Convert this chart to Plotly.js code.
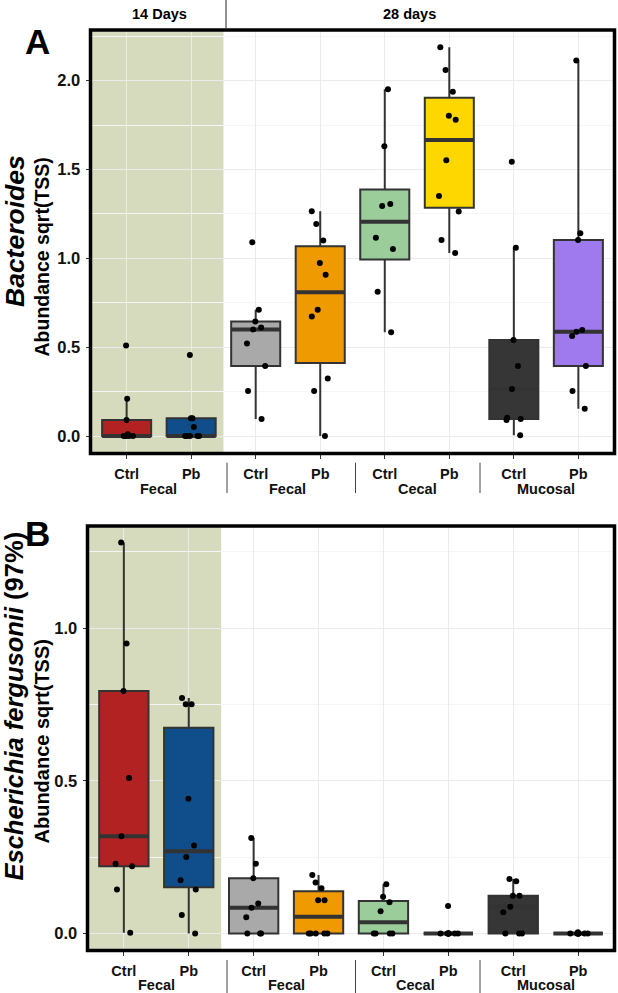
<!DOCTYPE html>
<html>
<head>
<meta charset="utf-8">
<script src="https://cdn.plot.ly/plotly-3.0.1.min.js"></script>
<style>
  html, body { margin: 0; padding: 0; background: #fff; }
  #plot { width: 618px; height: 993px; }
</style>
</head>
<body>
<div id="plot"></div>
<script>
// x categories (same order in both panels)
const categories = ['F14_Ctrl', 'F14_Pb', 'F28_Ctrl', 'F28_Pb', 'Cec_Ctrl', 'Cec_Pb', 'Muc_Ctrl', 'Muc_Pb'];
const treatmentLabels = ['Ctrl', 'Pb', 'Ctrl', 'Pb', 'Ctrl', 'Pb', 'Ctrl', 'Pb'];
const sampleTypes = ['Fecal', 'Fecal', 'Cecal', 'Mucosal'];
const boxColors = ['#B22222', '#104E8B', '#A9A9A9', '#EE9A00', '#9BCD9B', '#FFD700', '#363636', '#9F79EE'];

// panel A: Bacteroides, abundance sqrt(TSS), one array per box
const bacteroides = [
  [0.51, 0.21, 0.09, 0.01, 0, 0, 0, 0, 0],
  [0.456, 0.10, 0.10, 0.05, 0, 0, 0, 0, 0],
  [1.09, 0.71, 0.645, 0.61, 0.60, 0.52, 0.394, 0.253, 0.096],
  [1.265, 1.193, 1.10, 0.974, 0.908, 0.711, 0.672, 0.323, 0.253, 0],
  [1.952, 1.631, 1.306, 1.295, 1.116, 1.053, 0.812, 0.584],
  [2.188, 2.06, 1.938, 1.803, 1.78, 1.552, 1.351, 1.263, 1.103, 1.03],
  [1.544, 1.06, 0.54, 0.394, 0.265, 0.103, 0.096, 0.09, 0.004],
  [2.113, 1.141, 1.103, 0.597, 0.587, 0.563, 0.394, 0.253, 0.154]
];

// panel B: Escherichia fergusonii (97%), abundance sqrt(TSS)
const escherichia = [
  [1.281, 0.95, 0.794, 0.509, 0.318, 0.228, 0.22, 0.144, 0.002],
  [0.771, 0.751, 0.751, 0.441, 0.288, 0.25, 0.174, 0.144, 0.06, 0],
  [0.313, 0.228, 0.181, 0.098, 0.084, 0.053, 0, 0, 0],
  [0.191, 0.167, 0.148, 0.109, 0.109, 0, 0, 0, 0, 0],
  [0.161, 0.12, 0.102, 0.073, 0, 0, 0, 0],
  [0.09, 0, 0, 0, 0, 0, 0, 0, 0],
  [0.178, 0.171, 0.123, 0.123, 0.087, 0.069, 0, 0, 0],
  [0.004, 0, 0, 0, 0, 0, 0, 0, 0]
];

const W = 618, H = 993;
const FONT = 'Liberation Sans, Arial, sans-serif';
const px = v => v / W;
const py = v => 1 - v / H;

// quantiles as R type 7 (ggplot default)
function quant(s, p) {
  const h = (s.length - 1) * p, lo = Math.floor(h), hi = Math.ceil(h);
  return s[lo] + (h - lo) * (s[hi] - s[lo]);
}
function boxStats(vals) {
  const s = vals.slice().sort((a, b) => a - b);
  const q1 = quant(s, 0.25), med = quant(s, 0.5), q3 = quant(s, 0.75);
  const iqr = q3 - q1;
  const inside = s.filter(v => v >= q1 - 1.5 * iqr && v <= q3 + 1.5 * iqr);
  return { q1: q1, med: med, q3: q3, lo: inside[0], hi: inside[inside.length - 1] };
}

// boxes, then thick median bars, then the jittered points on top
function boxTraces(series, xa, ya) {
  const boxes = [], medians = [], points = [];
  series.forEach((vals, i) => {
    const st = boxStats(vals);
    const base = { type: 'box', x: [categories[i]], width: 0.76, whiskerwidth: 0,
      xaxis: xa, yaxis: ya, showlegend: false, hoverinfo: 'skip' };
    boxes.push(Object.assign({}, base, {
      q1: [st.q1], median: [st.med], q3: [st.q3], lowerfence: [st.lo], upperfence: [st.hi],
      boxpoints: false, fillcolor: boxColors[i], line: { color: '#333333', width: 2 }
    }));
    medians.push(Object.assign({}, base, {
      q1: [st.med], median: [st.med], q3: [st.med], lowerfence: [st.med], upperfence: [st.med],
      boxpoints: false, fillcolor: 'rgba(0,0,0,0)', line: { color: '#333333', width: 4 }
    }));
    points.push(Object.assign({}, base, {
      y: [vals], q1: [st.q1], median: [st.med], q3: [st.q3], lowerfence: [st.lo], upperfence: [st.hi],
      boxpoints: 'all', jitter: 0.5, pointpos: 0,
      fillcolor: 'rgba(0,0,0,0)', line: { color: 'rgba(0,0,0,0)', width: 0 },
      marker: { color: '#000', size: 6 }
    }));
  });
  return boxes.concat(medians, points);
}

const data = boxTraces(bacteroides, 'x', 'y').concat(boxTraces(escherichia, 'x2', 'y2'));

function xAxis(left, anchor) {
  return {
    domain: [px(left), px(614.5)], anchor: anchor, type: 'category',
    categoryorder: 'array', categoryarray: categories, range: [-0.56, 7.56],
    tickvals: categories, ticktext: treatmentLabels,
    ticks: 'outside', ticklen: 4, tickcolor: '#333', ticklabelstandoff: 3,
    tickfont: { family: FONT, size: 14.5, color: '#111', weight: 'bold' },
    showgrid: true, gridcolor: '#ebebeb', zeroline: false, showline: false
  };
}
function yAxis(top, bottom, range, anchor) {
  return {
    domain: [py(bottom), py(top)], anchor: anchor, range: range,
    tick0: 0, dtick: 0.5, tickformat: '.1f',
    ticks: 'outside', ticklen: 4, tickcolor: '#333', ticklabelstandoff: 2,
    tickfont: { family: FONT, size: 16.5, color: '#111', weight: 'bold' },
    showgrid: true, gridcolor: '#ebebeb', zeroline: false, showline: false,
    minor: { dtick: 0.25, showgrid: true, gridcolor: '#f5f5f5', gridwidth: 1 }
  };
}

const shapes = [];
[['x', 'y', 493, 462.7], ['x2', 'y2', 993, 960]].forEach(([xa, ya, yb, yt]) => {
  shapes.push({ type: 'rect', xref: xa, yref: ya + ' domain', x0: -0.56, x1: 1.5, y0: 0, y1: 1,
    fillcolor: '#d6dbbd', line: { width: 0 }, layer: 'below' });
  shapes.push({ type: 'rect', xref: xa + ' domain', yref: ya + ' domain', x0: 0, x1: 1, y0: 0, y1: 1,
    line: { color: '#000', width: 3.5 }, layer: 'above' });
  [227, 355.5, 480].forEach(sx => shapes.push({ type: 'line', xref: 'paper', yref: 'paper',
    x0: px(sx), x1: px(sx), y0: py(yb), y1: py(yt), line: { color: '#444', width: 1 } }));
});
shapes.push({ type: 'line', xref: 'paper', yref: 'paper', x0: px(226), x1: px(226),
  y0: py(28), y1: 1, line: { color: '#222', width: 1 } });

const annotations = [];
function txt(text, x, y, size, extra) {
  annotations.push(Object.assign({ text: text, xref: 'paper', yref: 'paper', x: px(x), y: py(y),
    showarrow: false, xanchor: 'center', yanchor: 'middle',
    font: { family: FONT, size: size, color: '#000' } }, extra || {}));
}
txt('<b>14 Days</b>', 159, 14, 14.5);
txt('<b>28 days</b>', 409, 14, 14.5);
txt('<b>A</b>', 37, 42, 35);
txt('<b>B</b>', 37, 533, 35);
txt('<b><i>Bacteroides</i></b>', 15, 231, 26.5, { textangle: -90 });
txt('<b>Abundance sqrt(TSS)</b>', 41.5, 257, 19.5, { textangle: -90 });
txt('<b><i>Escherichia fergusonii</i> (97%)</b>', 13, 706.5, 25.5, { textangle: -90 });
txt('<b>Abundance sqrt(TSS)</b>', 41.5, 741, 20, { textangle: -90 });
[['x', 489], ['x2', 984.5]].forEach(([xa, y]) => {
  sampleTypes.forEach((name, g) => annotations.push({
    text: '<b>' + name + '</b>', xref: xa, yref: 'paper', x: 2 * g + 0.5, y: py(y),
    showarrow: false, xanchor: 'center', yanchor: 'middle',
    font: { family: FONT, size: 14.5, color: '#111' } }));
});

const layout = {
  width: W, height: H,
  margin: { l: 0, r: 0, t: 0, b: 0 },
  paper_bgcolor: '#fff', plot_bgcolor: '#fff',
  boxmode: 'overlay', showlegend: false,
  xaxis: xAxis(90.5, 'y'),
  yaxis: yAxis(30, 453.5, [-0.0985, 2.285], 'x'),
  xaxis2: xAxis(87.5, 'y2'),
  yaxis2: yAxis(526, 950.5, [-0.056, 1.335], 'x2'),
  shapes: shapes,
  annotations: annotations
};

Plotly.newPlot('plot', data, layout, { displayModeBar: false, staticPlot: true });
</script>
</body>
</html>
